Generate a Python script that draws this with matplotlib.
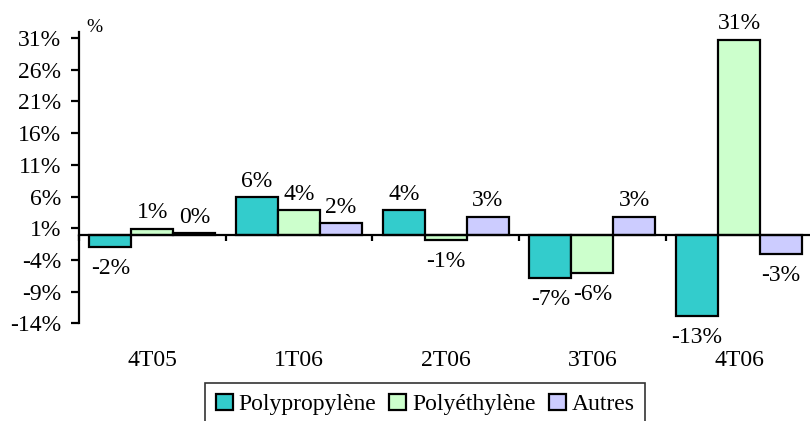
import numpy as np
import matplotlib.pyplot as plt
import matplotlib.transforms as mtransforms

# ----------------------------
# data
# ----------------------------
quarters = ["4T05", "1T06", "2T06", "3T06", "4T06"]
series_names = ["Polypropylène", "Polyéthylène", "Autres"]
polypropylene = [-1.9, 5.9, 3.8, -6.9, -12.8]
polyethylene = [0.9, 3.8, -0.9, -6.0, 30.7]
autres = [0.2, 1.8, 2.8, 2.8, -3.0]
yticks = list(range(-14, 32, 5))

colors = ["#33CCCC", "#CCFFCC", "#CCCCFF"]

plt.rcParams["font.family"] = ["Liberation Serif", "DejaVu Serif"]
FS = 17

# ----------------------------
# plotting
# ----------------------------
fig = plt.figure(figsize=(8.10, 4.21), dpi=100)
ax = fig.add_axes([79 / 810, 1 - 323.3 / 421, 733.3 / 810, 291.6 / 421])

x = np.arange(len(quarters))
w = 0.286
for k, (vals, col) in enumerate(zip([polypropylene, polyethylene, autres], colors)):
    pos = x + (k - 1) * w
    ax.bar(pos, vals, width=w, color=col, edgecolor="black", linewidth=1.6,
           label=series_names[k], zorder=2)
    for xi, v in zip(pos, vals):
        txt = f"{v:.0f}%"
        if v >= 0:
            ax.annotate(txt, (xi, v), xytext=(0, 4), textcoords="offset points",
                        ha="center", va="bottom", fontsize=FS)
        else:
            ax.annotate(txt, (xi, v), xytext=(0, -8), textcoords="offset points",
                        ha="center", va="top", fontsize=FS)

ax.set_xlim(-0.5, len(quarters) - 0.5)
ax.set_ylim(-14, 32)

# axes lines
for s in ["top", "right"]:
    ax.spines[s].set_visible(False)
ax.spines["left"].set_linewidth(1.6)
ax.spines["bottom"].set_linewidth(1.6)
ax.spines["bottom"].set_position(("data", 0))
ax.spines["bottom"].set_zorder(3)

ax.set_yticks(yticks)
ax.set_yticklabels([f"{t}%" for t in yticks])
ax.tick_params(axis="y", direction="out", length=6, width=1.6, pad=7, labelsize=FS)

ax.set_xticks(np.arange(-0.5, len(quarters), 1.0))
ax.set_xticklabels([])
ax.tick_params(axis="x", direction="out", length=4, width=1.6)

# category names sit below the plot area
trans = mtransforms.blended_transform_factory(ax.transData, ax.transAxes)
for xi, q in zip(x, quarters):
    ax.text(xi, -0.129, q, transform=trans, ha="center", va="center", fontsize=FS)

fig.text(86 / 810, 1 - 27 / 421, "%", fontsize=14, ha="left", va="center")

leg = fig.legend(loc="upper center", bbox_to_anchor=(425 / 810, 1 - 383 / 421),
                 ncol=3, fontsize=FS, frameon=True, fancybox=False,
                 handlelength=0.72, handleheight=0.72, handletextpad=0.25,
                 columnspacing=0.55, borderpad=0.45, borderaxespad=0)
leg.get_frame().set_edgecolor("black")
leg.get_frame().set_linewidth(1.2)
for h in leg.legend_handles:
    h.set_linewidth(1.6)

fig.savefig("out.png", dpi=100)
